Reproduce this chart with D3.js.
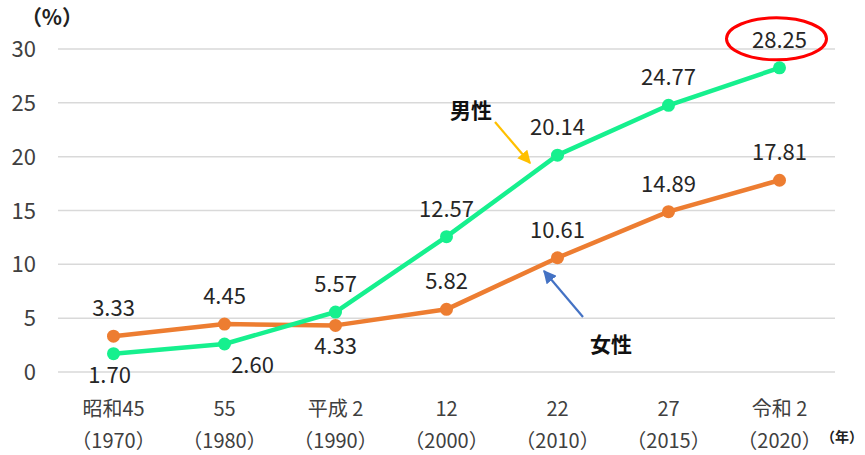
<!DOCTYPE html>
<html>
<head>
<meta charset="utf-8">
<script src="https://cdn.jsdelivr.net/npm/d3@7"></script>
<style>
  html, body { margin: 0; padding: 0; background: #fff; }
  svg { display: block; font-family: "Noto Sans CJK JP", "Noto Sans", sans-serif; }
</style>
</head>
<body>
<svg id="chart" width="865" height="455"></svg>
<script>
// 年次（和暦・西暦）
const eraLabels  = ["昭和45", "55", "平成 2", "12", "22", "27", "令和 2"];
const yearLabels = ["（1970）", "（1980）", "（1990）", "（2000）", "（2010）", "（2015）", "（2020）"];
// 生涯未婚率（%）
const maleValues   = [1.70, 2.60, 5.57, 12.57, 20.14, 24.77, 28.25];
const femaleValues = [3.33, 4.45, 4.33, 5.82, 10.61, 14.89, 17.81];
const yTicks = [0, 5, 10, 15, 20, 25, 30];

// ラベルの上下配置（1 = 上, -1 = 下）
const maleLabelSide   = [-1, -1, 1, 1, 1, 1, 1];
const femaleLabelSide = [1, 1, -1, 1, 1, 1, 1];

const svg = d3.select("#chart");
const plotLeft = 58, plotRight = 835, plotTop = 49, plotBottom = 372;

const x = d3.scaleBand().domain(d3.range(eraLabels.length)).range([plotLeft, plotRight]);
const cx = i => x(i) + x.bandwidth() / 2;
const y = d3.scaleLinear().domain([0, 30]).range([plotBottom, plotTop]);

// 目盛線
svg.append("g").selectAll("line").data(yTicks).join("line")
  .attr("x1", plotLeft).attr("x2", plotRight)
  .attr("y1", d => y(d)).attr("y2", d => y(d))
  .attr("stroke", "#d9d9d9").attr("stroke-width", 1.5);

// Y軸ラベル
svg.append("g").selectAll("text").data(yTicks).join("text")
  .attr("x", 36).attr("y", d => y(d) + 8)
  .attr("text-anchor", "end")
  .attr("font-size", 22).attr("fill", "#404040")
  .text(d => d);

svg.append("text").attr("x", 52).attr("y", 25)
  .attr("text-anchor", "middle").attr("font-size", 21).attr("font-weight", "bold")
  .attr("fill", "#222").text("（%）");

// X軸ラベル
const xl = svg.append("g");
xl.selectAll("text.era").data(eraLabels).join("text").attr("class", "era")
  .attr("x", (d, i) => cx(i)).attr("y", 416)
  .attr("text-anchor", "middle").attr("font-size", 20).attr("fill", "#404040")
  .text(d => d);
xl.selectAll("text.yr").data(yearLabels).join("text").attr("class", "yr")
  .attr("x", (d, i) => cx(i)).attr("y", 448)
  .attr("text-anchor", "middle").attr("font-size", 20).attr("fill", "#404040")
  .text(d => d);
svg.append("text").attr("x", 863).attr("y", 442)
  .attr("text-anchor", "end").attr("font-size", 14).attr("font-weight", "bold")
  .attr("fill", "#222").text("（年）");

// 系列
const line = d3.line().x((d, i) => cx(i)).y(d => y(d));
function drawSeries(values, color) {
  const g = svg.append("g");
  g.append("path").datum(values)
    .attr("d", line).attr("fill", "none")
    .attr("stroke", color).attr("stroke-width", 4.5).attr("stroke-linejoin", "round");
  g.selectAll("circle").data(values).join("circle")
    .attr("cx", (d, i) => cx(i)).attr("cy", d => y(d)).attr("r", 6.5)
    .attr("fill", color);
  return g;
}
drawSeries(femaleValues, "#ED7D31");
drawSeries(maleValues, "#16F08E");

// データラベル
function drawLabels(values, sides, dx) {
  svg.append("g").selectAll("text").data(values).join("text")
    .attr("x", (d, i) => cx(i) + (dx[i] || 0))
    .attr("y", (d, i) => sides[i] > 0 ? y(d) - 20 : y(d) + 29)
    .attr("text-anchor", "middle").attr("font-size", 22).attr("fill", "#262626")
    .text(d => d.toFixed(2));
}
drawLabels(femaleValues, femaleLabelSide, [0, 0, 0, 0, 0, 0, 0]);
drawLabels(maleValues, maleLabelSide, [-4, 28, 0, 0, 0, 0, 0]);

// 強調の楕円（令和2年 男性）
svg.append("ellipse")
  .attr("cx", cx(6) - 3).attr("cy", y(maleValues[6]) - 29)
  .attr("rx", 50).attr("ry", 21)
  .attr("fill", "none").attr("stroke", "#ff0000").attr("stroke-width", 3);

// 注記と矢印
const defs = svg.append("defs");
function marker(id, color) {
  defs.append("marker").attr("id", id)
    .attr("viewBox", "0 0 10 10").attr("refX", 9).attr("refY", 5)
    .attr("markerWidth", 6).attr("markerHeight", 6)
    .attr("orient", "auto")
    .append("path").attr("d", "M0,0 L10,5 L0,10 z").attr("fill", color);
}
marker("arrY", "#FFC000");
marker("arrB", "#4472C4");

svg.append("text").attr("x", 471).attr("y", 118)
  .attr("text-anchor", "middle").attr("font-size", 21).attr("font-weight", "bold")
  .attr("fill", "#111").text("男性");
svg.append("line").attr("x1", 495).attr("y1", 122).attr("x2", 530).attr("y2", 163)
  .attr("stroke", "#FFC000").attr("stroke-width", 2.2).attr("marker-end", "url(#arrY)");

svg.append("text").attr("x", 611).attr("y", 352)
  .attr("text-anchor", "middle").attr("font-size", 21).attr("font-weight", "bold")
  .attr("fill", "#111").text("女性");
svg.append("line").attr("x1", 583).attr("y1", 317).attr("x2", 544).attr("y2", 271)
  .attr("stroke", "#4472C4").attr("stroke-width", 2.2).attr("marker-end", "url(#arrB)");
</script>
</body>
</html>
